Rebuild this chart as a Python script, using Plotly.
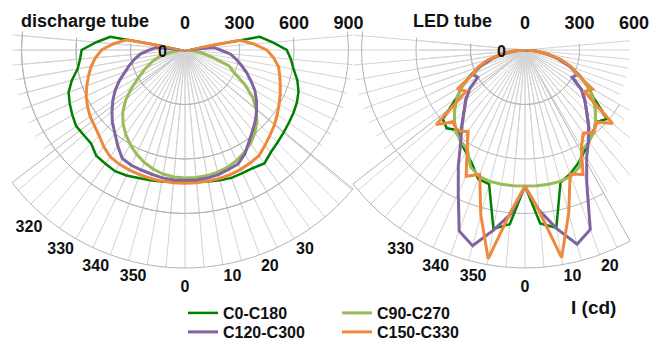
import math
import plotly.graph_objects as go

# ---------------- data (luminous intensity in cd, gamma 0 = nadir, + to the right) ----------------
gamma = list(range(-105, 110, 5))

disc_C0_C180 = [0, 418, 490, 569, 580, 600, 645, 682, 700, 716, 731, 728, 730, 760, 764, 770, 762, 750, 742, 735, 730,
                725, 730, 735, 742, 749, 748, 750, 762, 735, 720, 708, 698, 690, 680, 665, 640, 607, 585, 560, 485, 418, 0]
disc_C90_C270 = [0, 0, 0, 0, 35, 90, 150, 195, 240, 290, 355, 425, 485, 530, 568, 602, 632, 658, 678, 693, 702,
                 705, 705, 702, 696, 686, 672, 652, 628, 598, 560, 512, 455, 380, 300, 258, 160, 95, 45, 0, 0, 0, 0]
disc_C120_C300 = [0, 0, 160, 195, 245, 280, 315, 351, 398, 444, 485, 525, 565, 600, 645, 690, 700, 703, 708, 715, 718,
                  719, 718, 716, 710, 700, 692, 660, 615, 579, 548, 515, 480, 444, 400, 360, 320, 285, 250, 195, 160, 0, 0]
disc_C150_C330 = [0, 326, 395, 459, 495, 525, 550, 575, 600, 620, 638, 650, 668, 695, 718, 725, 728, 730, 732, 733, 734,
                  734, 734, 733, 732, 730, 725, 718, 710, 685, 662, 642, 620, 598, 578, 558, 540, 522, 490, 450, 380, 308, 0]

led_C0_C180 = [0, 0, 0, 0, 60, 125, 195, 268, 335, 400, 460, 590, 610, 575, 620, 650, 690, 755, 764, 1000, 962,
               749, 958, 994, 755, 726, 690, 650, 615, 585, 560, 590, 460, 400, 335, 268, 195, 125, 60, 0, 0, 0, 0]
led_C90_C270 = [0, 0, 0, 0, 60, 125, 195, 265, 330, 395, 456, 505, 550, 590, 615, 633, 710, 740, 749, 750, 750,
                749, 750, 750, 749, 740, 710, 633, 615, 590, 550, 505, 456, 395, 330, 265, 195, 125, 60, 0, 0, 0, 0]
led_C120_C300 = [0, 0, 0, 0, 55, 120, 190, 260, 320, 300, 372, 425, 474, 540, 617, 734, 869, 1060, 1115, 1008, 907,
                 752, 885, 997, 1107, 1051, 804, 679, 610, 545, 480, 430, 380, 300, 320, 260, 190, 120, 55, 0, 0, 0, 0]
led_C150_C330 = [0, 0, 0, 0, 65, 135, 210, 275, 316, 431, 395, 638, 560, 581, 548, 637, 767, 729, 940, 1167, 893,
                 749, 890, 1161, 930, 726, 756, 620, 560, 590, 560, 630, 400, 430, 316, 270, 205, 130, 62, 0, 0, 0, 0]

series_names = ["C0-C180", "C90-C270", "C120-C300", "C150-C330"]
series_colors = ["#008000", "#9BBB59", "#8064A2", "#F0883C"]
series_widths = [2.5, 3, 3, 3]
series_legend = ["legend", "legend", "legend2", "legend2"]

radial_ticks = [300, 600, 900, 1200]
spoke_step = 5
disc_angle_labels = [320, 330, 340, 350, 0, 10, 20, 30]
led_angle_labels = [330, 340, 350, 0, 10, 20]
disc_top_ticks = [0, 300, 600, 900]
led_top_ticks = [0, 300, 600]
R_MAX = 1200

# ---------------- geometry / style ----------------
W, H = 650, 340
PX_PER_CD = 218 / R_MAX
CY = 50
L_CX, R_CX = 185, 525
FONT = "Liberation Sans, Arial, sans-serif"
SPOKE_C = "#d4d4d4"
CIRCLE_C = "#b4b4b4"
TXT = "#111111"
LABEL_R_SIDE = 1222      # radius (cd units) of the inner corner of the angle labels
LABEL_R_ZERO = 1265
LABEL_RANGE = 1300
spoke_vals = list(range(-360, 720, spoke_step))


def sector_bbox(s0, s1):
    arc = s1 - s0
    a0 = s0 % 360
    a1 = a0 + arc
    ax0, ay0 = math.cos(math.radians(a0)), math.sin(math.radians(a0))
    ax1, ay1 = math.cos(math.radians(a1)), math.sin(math.radians(a1))
    if (a0 <= 90 <= a1) or (a0 > 90 and a1 >= 450):
        y1 = 1
    elif ay0 <= 0 and ay1 <= 0:
        y1 = 0
    else:
        y1 = max(ay0, ay1)
    if (a0 <= 180 <= a1) or (a0 > 180 and a1 >= 540):
        x0 = -1
    elif ax0 >= 0 and ax1 >= 0:
        x0 = 0
    else:
        x0 = min(ax0, ax1)
    if (a0 <= 270 <= a1) or (a0 > 270 and a1 >= 630):
        y0 = -1
    elif ay0 >= 0 and ay1 >= 0:
        y0 = 0
    else:
        y0 = min(ay0, ay1)
    if a1 >= 360:
        x1 = 1
    elif ax0 <= 0 and ax1 <= 0:
        x1 = 0
    else:
        x1 = max(ax0, ax1)
    return x0, y0, x1, y1


def clamp(v):
    return min(1.0, max(0.0, v))


def polar_cfg(cx, rmax, sector, grid=True, outer=False):
    rpx = rmax * PX_PER_CD
    x0, y0, x1, y1 = sector_bbox(*sector)
    dx = [clamp((cx + x0 * rpx) / W), clamp((cx + x1 * rpx) / W)]
    dy = [clamp(1 - (CY - y0 * rpx) / H), clamp(1 - (CY - y1 * rpx) / H)]
    return dict(
        domain=dict(x=dx, y=dy),
        sector=list(sector),
        bgcolor="rgba(0,0,0,0)",
        radialaxis=dict(range=[0, rmax], tickvals=radial_ticks, showticklabels=False,
                        showline=False, ticks="", showgrid=grid, gridcolor=CIRCLE_C, gridwidth=1),
        angularaxis=dict(rotation=-90, direction="counterclockwise", tickvals=spoke_vals,
                         showticklabels=False, ticks="",
                         showgrid=grid, gridcolor=SPOKE_C, gridwidth=1,
                         showline=outer, linecolor=CIRCLE_C, linewidth=1),
    )


fig = go.Figure()
layout = {}
pid = [0]


def add_polar(cfg):
    pid[0] += 1
    name = "polar" if pid[0] == 1 else f"polar{pid[0]}"
    layout[name] = cfg
    return name


def add_anchor(subplot):
    # invisible trace so that a grid-only subplot is drawn
    fig.add_trace(go.Scatterpolar(r=[0], theta=[0], mode="markers", subplot=subplot,
                                  marker=dict(size=1, opacity=0), showlegend=False, hoverinfo="skip"))


def add_traces(subplot, data, legend_on):
    for k in range(4):
        fig.add_trace(go.Scatterpolar(
            r=data[k], theta=gamma, mode="lines", subplot=subplot,
            name=f"<b>{series_names[k]}</b>", legend=series_legend[k],
            line=dict(color=series_colors[k], width=series_widths[k]),
            showlegend=legend_on, hoverinfo="skip"))


def add_angle_labels(subplot, labels):
    thetas = [a if a <= 180 else a - 360 for a in labels]
    fig.add_trace(go.Scatterpolar(
        r=[LABEL_R_ZERO if t == 0 else LABEL_R_SIDE for t in thetas], theta=thetas,
        mode="text", text=[f"<b>{a}</b>" for a in labels], subplot=subplot, cliponaxis=False,
        textposition=["bottom center" if t == 0 else ("bottom left" if t < 0 else "bottom right")
                      for t in thetas],
        textfont=dict(family=FONT, size=16, color=TXT), showlegend=False, hoverinfo="skip"))


disc = [disc_C0_C180, disc_C90_C270, disc_C120_C300, disc_C150_C330]
led = [led_C0_C180, led_C90_C270, led_C120_C300, led_C150_C330]

# ---- left chart (discharge tube): visible window x in [12, 353] ----
add_anchor(add_polar(polar_cfg(L_CX, R_MAX, (217.5, 320.4), outer=True)))
add_anchor(add_polar(polar_cfg(L_CX, 952, (173.5, 217.5))))
add_anchor(add_polar(polar_cfg(L_CX, 925, (173.5, 366.5))))
add_traces(add_polar(polar_cfg(L_CX, 925, (167.0, 373.0), grid=False)), disc, True)

# ---- right chart (LED tube): visible window x in [353, 630] ----
right_parts = [
    ((217.9, 298.8), R_MAX),
    ((173.5, 366.5), 578),
    ((173.5, 217.9), 947),
    ((298.8, 310.0), 105 / math.cos(math.radians(50)) / PX_PER_CD),
    ((310.0, 320.0), 105 / math.cos(math.radians(40)) / PX_PER_CD),
    ((320.0, 330.0), 105 / math.cos(math.radians(30)) / PX_PER_CD),
]
for i, (sec, rm) in enumerate(right_parts):
    add_anchor(add_polar(polar_cfg(R_CX, rm, sec, outer=(i == 0))))
right_trace_parts = [
    ((217.9, 298.8), R_MAX),
    ((167.0, 373.0), 578),
    ((298.8, 310.0), 105 / math.cos(math.radians(50)) / PX_PER_CD),
    ((310.0, 320.0), 105 / math.cos(math.radians(40)) / PX_PER_CD),
    ((320.0, 330.0), 105 / math.cos(math.radians(30)) / PX_PER_CD),
]
for sec, rm in right_trace_parts:
    add_traces(add_polar(polar_cfg(R_CX, rm, sec, grid=False)), led, False)

# ---- angle labels (own label-only polar subplots, wide enough to hold the labels) ----
add_angle_labels(add_polar(polar_cfg(L_CX, LABEL_RANGE, (228.0, 302.0), grid=False)), disc_angle_labels)
add_angle_labels(add_polar(polar_cfg(R_CX, LABEL_RANGE, (238.0, 292.0), grid=False)), led_angle_labels)

# ---- top value scales (cartesian helper axes) ----
fig.add_trace(go.Scatter(x=[0], y=[0], xaxis="x", yaxis="y", mode="markers",
                         marker=dict(opacity=0), showlegend=False, hoverinfo="skip"))
fig.add_trace(go.Scatter(x=[0], y=[0], xaxis="x2", yaxis="y2", mode="markers",
                         marker=dict(opacity=0), showlegend=False, hoverinfo="skip"))
top_font = dict(family=FONT, size=18, color=TXT, weight="bold")
layout["xaxis"] = dict(domain=[0, 0.6], range=[(0 - L_CX) / PX_PER_CD, (390 - L_CX) / PX_PER_CD],
                       tickvals=disc_top_ticks, side="top", anchor="free", position=1 - 33 / H,
                       showgrid=False, zeroline=False, showline=False, ticks="", tickfont=top_font)
layout["yaxis"] = dict(domain=[0, 0.05], range=[1, 2], visible=False)
layout["xaxis2"] = dict(domain=[0.6, 1.0], range=[(390 - R_CX) / PX_PER_CD, (650 - R_CX) / PX_PER_CD],
                        tickvals=led_top_ticks, side="top", anchor="free", position=1 - 33 / H,
                        showgrid=False, zeroline=False, showline=False, ticks="", tickfont=top_font)
layout["yaxis2"] = dict(domain=[0, 0.05], range=[1, 2], visible=False, anchor="x2")

ann_font = dict(family=FONT, size=18, color=TXT, weight="bold")
small_font = dict(family=FONT, size=16, color=TXT, weight="bold")
annotations = [
    dict(text="discharge tube", x=85 / W, y=1 - 21 / H, xref="paper", yref="paper",
         showarrow=False, font=ann_font, xanchor="center", yanchor="middle"),
    dict(text="LED tube", x=452 / W, y=1 - 21 / H, xref="paper", yref="paper",
         showarrow=False, font=ann_font, xanchor="center", yanchor="middle"),
    dict(text="I (cd)", x=593 / W, y=1 - 307 / H, xref="paper", yref="paper",
         showarrow=False, font=dict(family=FONT, size=19, color=TXT, weight="bold"),
         xanchor="center", yanchor="middle"),
    dict(text="0", x=162 / W, y=1 - 51 / H, xref="paper", yref="paper",
         showarrow=False, font=small_font, xanchor="center", yanchor="middle"),
    dict(text="0", x=501 / W, y=1 - 51 / H, xref="paper", yref="paper",
         showarrow=False, font=small_font, xanchor="center", yanchor="middle"),
]

leg_font = dict(family=FONT, size=16, color=TXT)
fig.update_layout(
    width=W, height=H, margin=dict(l=0, r=0, t=0, b=0, pad=0, autoexpand=False),
    paper_bgcolor="white", plot_bgcolor="rgba(0,0,0,0)",
    template="none",
    annotations=annotations,
    legend=dict(orientation="h", x=183 / W, y=1 - 313 / H, xanchor="left", yanchor="middle",
                font=leg_font, entrywidth=109, bgcolor="rgba(0,0,0,0)", itemwidth=30),
    legend2=dict(orientation="h", x=183 / W, y=1 - 332 / H, xanchor="left", yanchor="middle",
                 font=leg_font, entrywidth=109, bgcolor="rgba(0,0,0,0)", itemwidth=30),
    **layout,
)

fig.write_html("out.html", config={"displayModeBar": False},
               post_script="document.body.style.margin='0px';")
